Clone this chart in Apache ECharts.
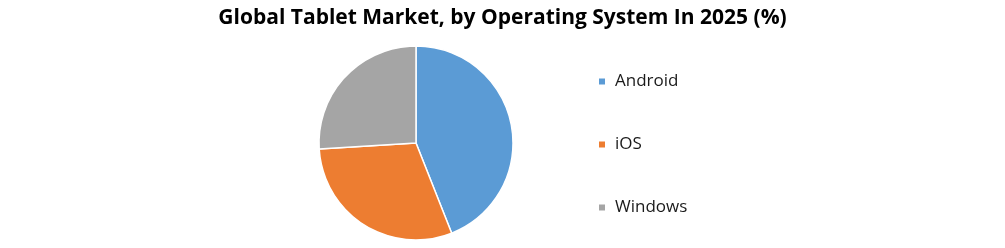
<!DOCTYPE html>
<html><head><meta charset="utf-8">
<script src="https://cdn.jsdelivr.net/npm/echarts@6/dist/echarts.min.js"></script>
<style>html,body{margin:0;padding:0;background:#fff}#c{width:1005px;height:248px}</style>
</head><body><div id="c"></div>
<script>
const categories = ['Android', 'iOS', 'Windows'];
const values = [44, 30, 26];
const colors = ['#5B9BD5', '#ED7D31', '#A5A5A5'];
const chart = echarts.init(document.getElementById('c'));
chart.setOption({
  animation: false,
  title: {
    text: 'Global Tablet Market, by Operating System In 2025 (%)',
    left: 'center', top: 3,
    textStyle: { fontFamily: 'Open Sans', fontWeight: 'bold', fontSize: 21, color: '#000' }
  },
  legend: {
    orient: 'vertical', left: 592, top: 68,
    icon: 'rect', itemWidth: 8, itemHeight: 8, itemGap: 46,
    data: categories,
    textStyle: { fontFamily: 'Open Sans', fontSize: 17, color: '#1a1a1a', padding: [0, 0, 0, 4] }
  },
  series: [{
    type: 'pie', center: [416, 143], radius: 97,
    startAngle: 90, clockwise: true,
    label: { show: false }, labelLine: { show: false },
    itemStyle: { borderColor: '#fff', borderWidth: 1.5 },
    data: categories.map((n, i) => ({ name: n, value: values[i], itemStyle: { color: colors[i] } }))
  }]
});
</script></body></html>
